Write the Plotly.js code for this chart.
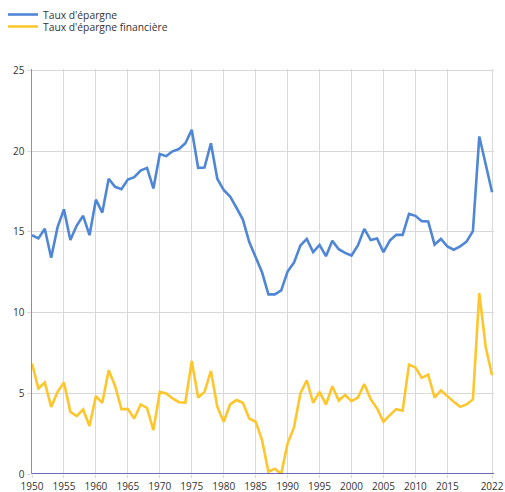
<!DOCTYPE html>
<html>
<head>
<meta charset="utf-8">
<script src="https://cdn.plot.ly/plotly-3.0.1.min.js"></script>
<style>html,body{margin:0;padding:0;background:#fff;}#chart{width:505px;height:492px;}</style>
</head>
<body>
<div id="chart"></div>
<script>
const years = [];
for (let y = 1950; y <= 2022; y++) years.push(y);

const tauxEpargne = [
  14.8, 14.6, 15.2, 13.4, 15.3, 16.4, 14.5, 15.4, 16.0, 14.8,
  17.0, 16.2, 18.3, 17.8, 17.65, 18.25, 18.4, 18.8, 18.97, 17.7,
  19.83, 19.7, 20.0, 20.14, 20.5, 21.33, 18.97, 19.0, 20.5, 18.3,
  17.6, 17.2, 16.5, 15.77, 14.37, 13.44, 12.5, 11.13, 11.13, 11.38,
  12.55, 13.1, 14.16, 14.57, 13.75, 14.2, 13.5, 14.45, 13.93, 13.7,
  13.54, 14.16, 15.19, 14.5, 14.6, 13.75, 14.47, 14.82, 14.82, 16.12,
  16.0, 15.67, 15.65, 14.22, 14.57, 14.1, 13.9, 14.1, 14.4, 15.05,
  20.92, 19.2, 17.46
];

const tauxEpargneFin = [
  6.85, 5.3, 5.67, 4.16, 5.09, 5.67, 3.85, 3.59, 4.0, 2.97,
  4.82, 4.41, 6.43, 5.46, 4.02, 4.02, 3.44, 4.31, 4.1, 2.72,
  5.09, 4.99, 4.68, 4.45, 4.43, 7.01, 4.74, 5.09, 6.39, 4.16,
  3.24, 4.31, 4.58, 4.41, 3.44, 3.24, 2.1, 0.14, 0.33, 0.0,
  1.9, 2.89, 4.99, 5.81, 4.41, 5.09, 4.31, 5.44, 4.55, 4.89,
  4.51, 4.74, 5.57, 4.64, 4.06, 3.24, 3.65, 4.02, 3.92, 6.78,
  6.6, 5.96, 6.16, 4.74, 5.19, 4.82, 4.47, 4.16, 4.31, 4.62,
  11.21, 7.87, 6.12
];

const xTicks = [1950, 1955, 1960, 1965, 1970, 1975, 1980, 1985, 1990, 1995, 2000, 2005, 2010, 2015, 2022];
const yTicks = [0, 5, 10, 15, 20, 25];
const seriesNames = ["Taux d'épargne", "Taux d'épargne financière"];
const yAxisNote = "en % du revenu disponible brut";

const font = "'Open Sans', 'Noto Sans', sans-serif";

const traces = [
  {x: years, y: tauxEpargne, name: seriesNames[0], type: 'scatter', mode: 'lines',
   line: {color: '#4f86d6', width: 2.6}, legend: 'legend'},
  {x: years, y: tauxEpargneFin, name: seriesNames[1], type: 'scatter', mode: 'lines',
   line: {color: '#fec62d', width: 2.6}, legend: 'legend2'}
];

const legendBase = {
  xref: 'container', yref: 'container', xanchor: 'left', yanchor: 'top',
  orientation: 'v', font: {family: font, size: 10.3, color: '#333'},
  bgcolor: 'rgba(0,0,0,0)', borderwidth: 0, itemwidth: 30
};

const layout = {
  width: 505, height: 492,
  margin: {l: 32, r: 11, t: 69, b: 18, pad: 0, autoexpand: false},
  paper_bgcolor: '#fff', plot_bgcolor: '#fff',
  font: {family: font, size: 10, color: '#333'},
  showlegend: true,
  legend: Object.assign({}, legendBase, {x: 3 / 505, y: 1}),
  legend2: Object.assign({}, legendBase, {x: 3 / 505, y: 1 - 12 / 492}),
  xaxis: {
    range: [1950, 2022.3], tickmode: 'array', tickvals: xTicks, ticktext: xTicks.map(String),
    showgrid: true, gridcolor: '#d9d9d9', gridwidth: 1,
    zeroline: false, showline: false,
    ticks: 'outside', ticklen: 3, tickcolor: '#d9d9d9',
    tickfont: {family: font, size: 10, color: '#333'}, fixedrange: true
  },
  yaxis: {
    range: [0, 25.1], tickmode: 'array', tickvals: yTicks,
    showgrid: true, gridcolor: '#d9d9d9', gridwidth: 1,
    zeroline: false, showline: true, linecolor: '#8c8cc8', linewidth: 1.5,
    ticks: 'outside', ticklen: 4, tickcolor: '#d9d9d9',
    tickfont: {family: font, size: 10, color: '#333'}, fixedrange: true
  },
  shapes: [
    {type: 'line', xref: 'paper', yref: 'y', x0: 0, x1: 1, y0: 0, y1: 0,
     line: {color: '#3a3aa8', width: 1.5}}
  ],
  annotations: [
    {xref: 'container', yref: 'container', x: 5 / 505, y: 1 - 54 / 492, xanchor: 'left', yanchor: 'middle',
     text: yAxisNote, showarrow: false, font: {family: font, size: 9.5, color: '#333'}}
  ]
};

Plotly.newPlot('chart', traces, layout, {displayModeBar: false, staticPlot: true});
</script>
</body>
</html>
